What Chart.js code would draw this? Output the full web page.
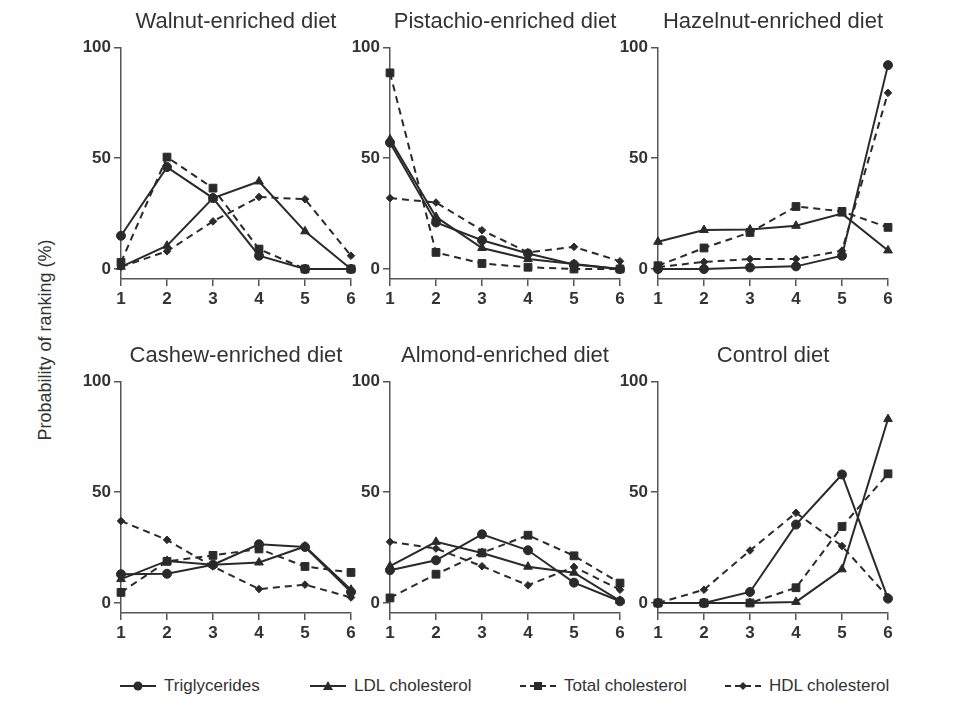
<!DOCTYPE html>
<html>
<head>
<meta charset="utf-8">
<script src="https://cdn.jsdelivr.net/npm/chart.js@4.4.1/dist/chart.umd.min.js"></script>
<style>
  html, body { margin: 0; padding: 0; background: #fff; }
  #wrap { position: relative; width: 960px; height: 712px; overflow: hidden; background: #fff; font-family: "Liberation Sans", Arial, sans-serif; }
  .panel { position: absolute; }
  #ylab { position: absolute; left: 45px; top: 340px; transform: translate(-50%, -50%) rotate(-90deg); white-space: nowrap; font-size: 18px; color: #333; }
  .leg { position: absolute; top: 674px; height: 24px; display: flex; align-items: center; font-size: 17px; color: #333; white-space: nowrap; }
  .leg svg { margin-right: 8px; }
</style>
</head>
<body>
<div id="wrap">
  <div id="ylab">Probability of ranking (%)</div>
</div>
<script>
// ---- data ----
const categories = ['1', '2', '3', '4', '5', '6'];
const yTicks = [0, 50, 100];
const seriesNames = ['Triglycerides', 'LDL cholesterol', 'Total cholesterol', 'HDL cholesterol'];
const panelTitles = ['Walnut-enriched diet', 'Pistachio-enriched diet', 'Hazelnut-enriched diet',
                     'Cashew-enriched diet', 'Almond-enriched diet', 'Control diet'];

const walnutTG    = [15, 46, 32, 6, 0, 0];
const walnutLDL   = [1, 10.5, 32, 39.5, 17, 0];
const walnutTC    = [3, 50.5, 36.5, 9, 0, 0];
const walnutHDL   = [1, 8, 21.5, 32.5, 31.5, 6];

const pistachioTG  = [57, 21, 13, 7, 2, 0];
const pistachioLDL = [58.5, 23.5, 9.5, 4.5, 2.3, 0];
const pistachioTC  = [88.5, 7.5, 2.5, 0.8, 0, 0];
const pistachioHDL = [32, 30, 17.5, 7.5, 10, 3.5];

const hazelnutTG  = [0, 0, 0.7, 1.2, 6, 92];
const hazelnutLDL = [12.3, 17.6, 17.8, 19.5, 25, 8.4];
const hazelnutTC  = [1.5, 9.5, 16.5, 28.2, 26, 18.8];
const hazelnutHDL = [0.9, 3.2, 4.5, 4.5, 8.3, 79.5];

const cashewTG  = [13, 13.2, 17.3, 26.5, 25.3, 5];
const cashewLDL = [10.8, 19, 17.3, 18.3, 25.5, 6];
const cashewTC  = [4.8, 18.8, 21.5, 24.4, 16.5, 13.8];
const cashewHDL = [37, 28.5, 16.5, 6.3, 8.3, 2.5];

const almondTG  = [14.8, 19.3, 31, 23.8, 9.2, 0.8];
const almondLDL = [16.6, 27.6, 22.6, 16.4, 13.7, 1];
const almondTC  = [2.3, 13, 22.6, 30.6, 21.3, 9];
const almondHDL = [27.6, 24.6, 16.6, 8, 16.3, 6];

const controlTG  = [0, 0, 5, 35.4, 58, 2];
const controlLDL = [0, 0, 0, 0.5, 15.2, 83];
const controlTC  = [0, 0, 0, 6.9, 34.5, 58.3];
const controlHDL = [0, 6, 23.7, 40.7, 25.7, 2.7];

const panelData = [
  [walnutTG, walnutLDL, walnutTC, walnutHDL],
  [pistachioTG, pistachioLDL, pistachioTC, pistachioHDL],
  [hazelnutTG, hazelnutLDL, hazelnutTC, hazelnutHDL],
  [cashewTG, cashewLDL, cashewTC, cashewHDL],
  [almondTG, almondLDL, almondTC, almondHDL],
  [controlTG, controlLDL, controlTC, controlHDL]
];

// ---- styles ----
const INK = '#2a2a2a';
const AXIS = '#555';
const TXT = '#333';
const FONT = '"Liberation Sans", Arial, sans-serif';
const seriesStyle = [
  { pointStyle: 'circle',   radius: 4.5, dash: [] },
  { pointStyle: 'triangle', radius: 5,   dash: [] },
  { pointStyle: 'rect',     radius: 5.5, dash: [7, 5] },
  { pointStyle: 'rectRot',  radius: 3.8, dash: [7, 5] }
];

const Y_AXIS_W = 45, X_AXIS_H = 30, PAD_R = 10, PLOT_W = 230, CANVAS_H = 306;
const colLeft = [121, 389.5, 658];
const rowTop = [2.5, 336.5];

const wrap = document.getElementById('wrap');

panelData.forEach((series, p) => {
  const col = p % 3, row = Math.floor(p / 3);
  const div = document.createElement('div');
  div.className = 'panel';
  const w = Y_AXIS_W + PLOT_W + PAD_R;
  div.style.left = (colLeft[col] - Y_AXIS_W) + 'px';
  div.style.top = rowTop[row] + 'px';
  div.style.width = w + 'px';
  div.style.height = CANVAS_H + 'px';
  const cv = document.createElement('canvas');
  cv.width = w; cv.height = CANVAS_H;
  cv.style.width = w + 'px'; cv.style.height = CANVAS_H + 'px';
  div.appendChild(cv);
  wrap.appendChild(div);

  new Chart(cv, {
    type: 'line',
    data: {
      labels: categories,
      datasets: series.map((vals, i) => ({
        label: seriesNames[i],
        data: vals,
        borderColor: INK,
        backgroundColor: INK,
        borderWidth: 2,
        borderDash: seriesStyle[i].dash,
        pointStyle: seriesStyle[i].pointStyle,
        pointRadius: seriesStyle[i].radius,
        pointBorderWidth: 1,
        pointBorderColor: INK,
        pointBackgroundColor: INK,
        tension: 0,
        fill: false,
        clip: false
      }))
    },
    options: {
      responsive: false,
      animation: false,
      devicePixelRatio: 1,
      layout: { padding: { left: 0, right: PAD_R, top: 0, bottom: 0 } },
      plugins: {
        legend: { display: false },
        tooltip: { enabled: false },
        title: {
          display: true,
          text: panelTitles[p],
          fullSize: false,
          color: TXT,
          font: { family: FONT, size: 22, weight: 'normal' },
          padding: { top: 6, bottom: 12 }
        }
      },
      scales: {
        x: {
          type: 'category',
          offset: false,
          grid: { display: true, drawOnChartArea: false, drawTicks: true, tickLength: 7, color: AXIS, lineWidth: 1.5 },
          border: { display: true, color: AXIS, width: 1.5 },
          ticks: { color: TXT, font: { family: FONT, size: 17, weight: 'bold' }, padding: 3, maxRotation: 0, autoSkip: false },
          afterFit: s => { s.height = X_AXIS_H; }
        },
        y: {
          type: 'linear',
          min: -4.5,
          max: 100,
          afterBuildTicks: s => { s.ticks = yTicks.map(v => ({ value: v })); },
          grid: { display: true, drawOnChartArea: false, drawTicks: true, tickLength: 7, color: AXIS, lineWidth: 1.5 },
          border: { display: true, color: AXIS, width: 1.5 },
          ticks: { color: TXT, font: { family: FONT, size: 17, weight: 'bold' }, padding: 3 },
          afterFit: s => { s.width = Y_AXIS_W; }
        }
      }
    }
  });
});

// ---- legend (HTML) ----
const legendX = [120, 310, 520, 725];
seriesNames.forEach((name, i) => {
  const st = seriesStyle[i];
  const item = document.createElement('div');
  item.className = 'leg';
  item.style.left = legendX[i] + 'px';
  let marker = '';
  if (st.pointStyle === 'circle') marker = '<circle cx="18" cy="6" r="4.5" fill="' + INK + '"/>';
  if (st.pointStyle === 'triangle') marker = '<polygon points="18,1 23,10 13,10" fill="' + INK + '"/>';
  if (st.pointStyle === 'rect') marker = '<rect x="14" y="2" width="8" height="8" fill="' + INK + '"/>';
  if (st.pointStyle === 'rectRot') marker = '<polygon points="18,2 22,6 18,10 14,6" fill="' + INK + '"/>';
  const dash = st.dash.length ? ' stroke-dasharray="6 4"' : '';
  item.innerHTML = '<svg width="36" height="12"><line x1="0" y1="6" x2="36" y2="6" stroke="' + INK + '" stroke-width="2"' + dash + '/>' + marker + '</svg><span>' + name + '</span>';
  wrap.appendChild(item);
});
</script>
</body>
</html>
